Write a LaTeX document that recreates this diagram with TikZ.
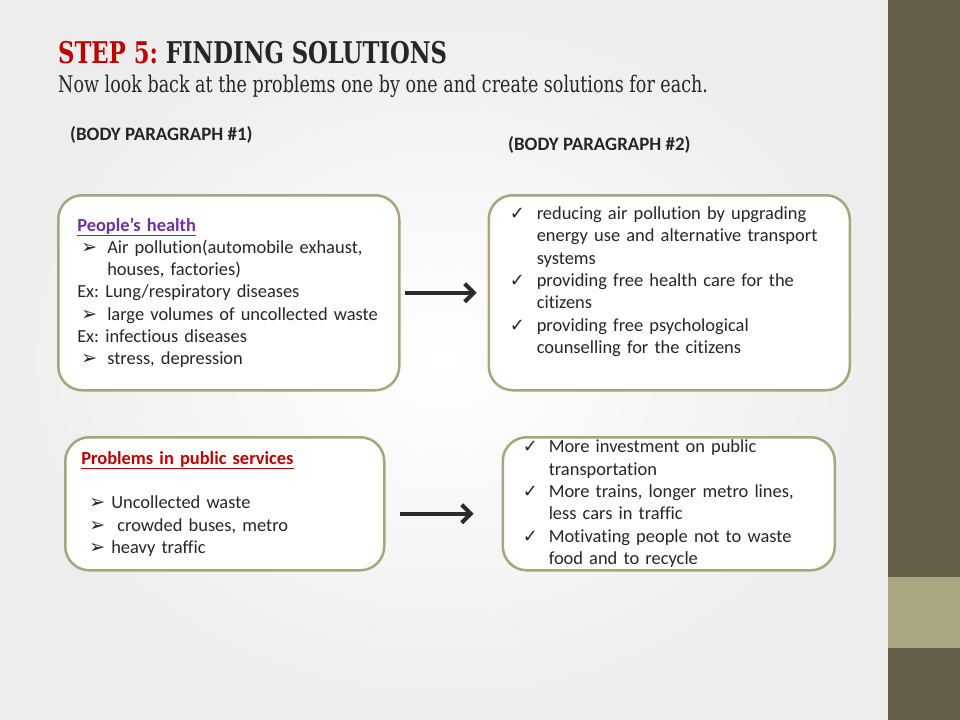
\documentclass[tikz,border=0pt]{standalone}
\usepackage{fontspec}
\setmainfont[Ligatures=NoCommon]{Carlito}
\newfontfamily\titlefont[FakeStretch=0.76]{DejaVu Serif}
\newfontfamily\subfont[FakeStretch=0.765]{DejaVu Serif}
\newfontfamily\symfont{DejaVu Sans}
\usetikzlibrary{arrows.meta,positioning}
\frenchspacing

\definecolor{sidedark}{HTML}{655E48}
\definecolor{sidelight}{HTML}{A9A77F}
\definecolor{boxline}{HTML}{A8A47E}
\definecolor{stepred}{HTML}{C00000}
\definecolor{headpurple}{HTML}{7030A0}
\definecolor{bodytext}{HTML}{262626}
\definecolor{arrowgray}{HTML}{2B2B2B}

% bullets
\newcommand{\bulsym}{{\symfont\fontsize{19}{19}\selectfont ➢}}
\newcommand{\chksym}{{\symfont\fontsize{18}{18}\selectfont ✓}}
\newcommand{\itm}[3]{\hspace*{#1}\makebox[#2][l]{#3}}

\begin{document}
\begin{tikzpicture}[
x=1bp, y=-1bp,
box/.style={
	draw=boxline, line width=2.5bp, rounded corners=24bp,
	fill=white, inner sep=0pt, align=left, text=bodytext,
	font=\fontsize{18.5}{22.4}\selectfont
},
heading/.style={anchor=west, inner sep=0pt, text=bodytext,
	font=\bfseries\fontsize{19}{20}\selectfont},
link/.style={arrowgray, line width=4bp, -{Straight Barb[length=9bp,width=18bp]}}
]
\useasboundingbox (0,0) rectangle (960,720);
\shade[inner color=white, outer color=black!7] (0,0) rectangle (888,720);
% side bar
\fill[sidedark] (888,0) rectangle (960,720);
\fill[sidelight] (888,577) rectangle (960,648);

% title
\node[anchor=base west, inner sep=0pt, font=\titlefont\bfseries\fontsize{30}{32}\selectfont]
	(title) at (58,64) {\color{stepred}STEP 5: \color{bodytext}FINDING SOLUTIONS};
\node[anchor=base west, inner sep=0pt, text=bodytext, font=\subfont\fontsize{23}{24}\selectfont]
	(sub) at (58,93) {Now look back at the problems one by one and create solutions for each.};

\node[heading] (h1) at (70,135) {(BODY PARAGRAPH \#1)};
\node[heading] (h2) at (508,145) {(BODY PARAGRAPH \#2)};

% boxes
\node[box, anchor=north west, minimum width=341bp, minimum height=195bp, text width=303bp]
	(1) at (57,194) {%
{\color{headpurple}\bfseries\underline{People’s health}}\\
\itm{4bp}{26bp}{\bulsym}Air pollution(automobile exhaust,\\
\hspace*{30bp}houses, factories)\\
Ex: Lung/respiratory diseases\\
\itm{4bp}{26bp}{\bulsym}large volumes of uncollected waste\\
Ex: infectious diseases\\
\itm{4bp}{26bp}{\bulsym}stress, depression};
\node[box, right=87bp of 1, minimum width=361bp, minimum height=195bp, text width=319bp]
	(2) {%
\itm{0bp}{27bp}{\chksym}reducing air pollution by upgrading\\
\hspace*{27bp}energy use and alternative transport\\
\hspace*{27bp}systems\\
\itm{0bp}{27bp}{\chksym}providing free health care for the\\
\hspace*{27bp}citizens\\
\itm{0bp}{27bp}{\chksym}providing free psychological\\
\hspace*{27bp}counselling for the citizens\par\vspace*{22bp}};
\node[box, anchor=north west, minimum width=319bp, minimum height=133bp, text width=287bp]
	(3) at (64,436) {%
{\color{stepred}\bfseries\underline{Problems in public services}}\\[22.4bp]
\itm{8bp}{22bp}{\bulsym}Uncollected waste\\
\itm{8bp}{22bp}{\bulsym} crowded buses, metro\\
\itm{8bp}{22bp}{\bulsym}heavy traffic};
\node[box, right=116bp of 3, minimum width=332bp, minimum height=133bp, text width=292bp]
	(4) {%
\itm{0bp}{26bp}{\chksym}More investment on public\\
\hspace*{26bp}transportation\\
\itm{0bp}{26bp}{\chksym}More trains, longer metro lines,\\
\hspace*{26bp}less cars in traffic\\
\itm{0bp}{26bp}{\chksym}Motivating people not to waste\\
\hspace*{26bp}food and to recycle};

% arrows
\draw[link, shorten <=4bp, shorten >=11bp] (1.east) -- (2.west);
\draw[link, shorten <=14bp, shorten >=28bp] ([yshift=-10bp]3.east) -- ([yshift=-10bp]4.west);
\end{tikzpicture}
\end{document}
